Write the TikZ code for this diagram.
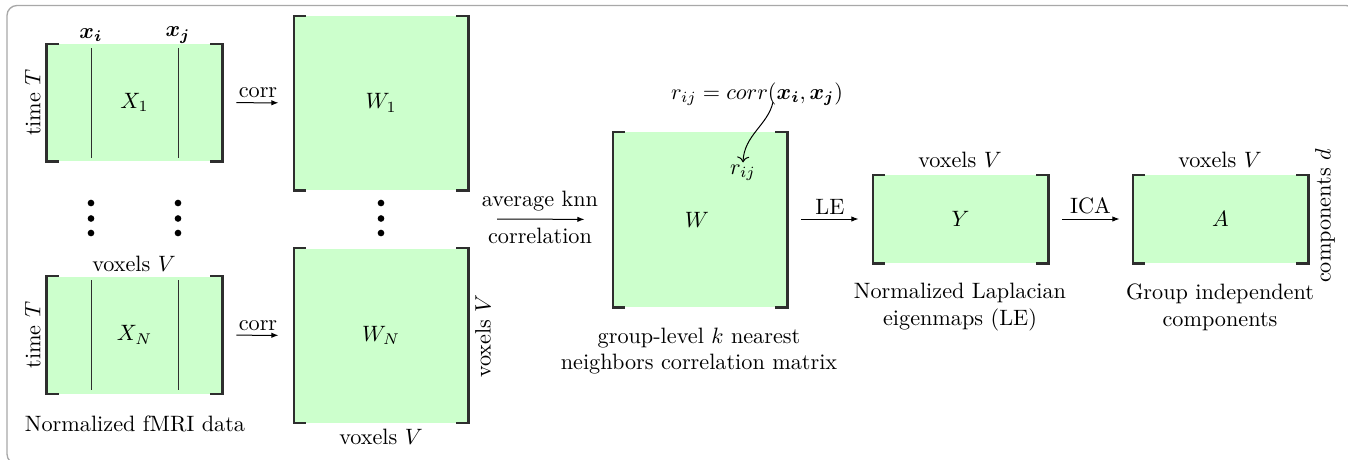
\documentclass[tikz,border=0pt]{standalone}
\usepackage{amsmath,bm}
\usetikzlibrary{arrows.meta}
\definecolor{matgreen}{HTML}{CCFFCC}
\definecolor{brkgray}{HTML}{2E2E2E}
\definecolor{framegray}{HTML}{A8A8A8}
\tikzset{
  matbox/.style 2 args={fill=matgreen, inner sep=0pt, minimum width=#1, minimum height=#2},
  brkline/.style={draw=brkgray, line width=0.95pt, line join=miter},
  colline/.style={draw=brkgray, line width=0.45pt},
  flowarr/.style={draw=black, line width=0.45pt, -{Latex[length=3.2pt,width=2.4pt]}},
  lbl/.style={inner sep=1pt},
  vdot/.style={fill=black},
}
\newcommand\mybrackets[1]{%
  \draw[brkline] ([xshift=5.4pt]#1.north west) -- (#1.north west) -- (#1.south west) -- ([xshift=5.4pt]#1.south west);
  \draw[brkline] ([xshift=-5.4pt]#1.north east) -- (#1.north east) -- (#1.south east) -- ([xshift=-5.4pt]#1.south east);}
\begin{document}
\begin{tikzpicture}[x=0.45pt,y=-0.45pt]
\useasboundingbox (0,0) rectangle (1348,459);
% outer frame
\begin{scope}
\clip (0,0) rectangle (1348,459);
\draw[framegray, line width=0.6pt, rounded corners=4.5pt] (7,5.5) rectangle (1356,464);
\end{scope}

% ---- subject matrices X
\node[matbox={78.75pt}{52.65pt}] (X1) at (134.5,102.5) {$X_1$};
\node[matbox={78.75pt}{52.65pt}] (XN) at (134.5,335) {$X_N$};
\mybrackets{X1}
\mybrackets{XN}
\draw[colline] (91,48) -- (91,158);
\draw[colline] (178,48) -- (178,158);
\draw[colline] (91,280) -- (91,390);
\draw[colline] (178,280) -- (178,390);
\node[lbl] (xi) at (91,35) {$\bm{x_i}$};
\node[lbl] (xj) at (178,35) {$\bm{x_j}$};
\node[lbl, rotate=90] (tT1) at (33,102.5) {time $T$};
\node[lbl, rotate=90] (tTN) at (33,335) {time $T$};
\node[lbl] (vxX) at (134,264) {voxels $V$};
\node[lbl] (capX) at (135,424) {Normalized fMRI data};
\foreach \xx in {91,178}{
  \foreach \yy in {203,218.5,233}{
    \fill[vdot] (\xx,\yy) circle (1.5pt);
  }
}

% ---- correlation matrices W_n
\node[matbox={78.3pt}{78.3pt}] (W1) at (381,103) {$W_1$};
\node[matbox={78.3pt}{78.3pt}] (WN) at (381,335.5) {$W_N$};
\mybrackets{W1}
\mybrackets{WN}
\foreach \yy in {203,218.5,233}{
  \fill[vdot] (381,\yy) circle (1.5pt);
}
\node[lbl, rotate=90] (vxWr) at (483,336) {voxels $V$};
\node[lbl] (vxWb) at (381,437) {voxels $V$};

\draw[flowarr, shorten <=6.3pt, shorten >=6.75pt] (X1) -- node[above, inner sep=2pt] (c1) {corr} (W1);
\draw[flowarr, shorten <=6.3pt, shorten >=6.75pt] (XN) -- node[above, inner sep=2pt] (c2) {corr} (WN);

% ---- group matrix W
\node[matbox={78.3pt}{78.75pt}] (W) at (700,219.5) {};
\mybrackets{W}
\node[lbl] (Wl) at (697,220) {$W$};
\node[lbl] (rij) at (743,173) {$r_{ij}$};
\node[lbl] (rdef) at (757,94) {$r_{ij} = corr(\bm{x_i}, \bm{x_j})$};
\draw[line width=0.45pt, ->] (773,102) .. controls (768,125) and (744,135) .. (rij.north);
\node[lbl, align=center] (capW) at (699,351) {group-level $k$ nearest\\neighbors correlation matrix};

\coordinate (avgin) at (497,219);
\draw[flowarr, shorten >=12.6pt] (avgin) -- (W.west);
\node[lbl] (avg1) at (540,201) {average knn};
\node[lbl] (avg2) at (540,236) {correlation};

% ---- Laplacian eigenmaps Y
\node[matbox={78.75pt}{39.6pt}] (Y) at (960.5,219) {$Y$};
\mybrackets{Y}
\node[lbl] (vxY) at (960,160) {voxels $V$};
\node[lbl, align=center] (capY) at (960,307) {Normalized Laplacian\\eigenmaps (LE)};
\draw[flowarr, shorten <=6.3pt, shorten >=6.3pt] (W.east |- Y.west) -- node[above, inner sep=2pt] (le) {LE} (Y.west);

% ---- ICA A
\node[matbox={78.75pt}{39.6pt}] (A) at (1220.5,219) {$A$};
\mybrackets{A}
\node[lbl] (vxA) at (1220,160) {voxels $V$};
\node[lbl, rotate=90] (cd) at (1325,216) {components $d$};
\node[lbl, align=center] (capA) at (1220,307) {Group independent\\components};
\draw[flowarr, shorten <=6.3pt, shorten >=5.85pt] (Y) -- node[above, inner sep=2pt] (ica) {ICA} (A);
\end{tikzpicture}
\end{document}
